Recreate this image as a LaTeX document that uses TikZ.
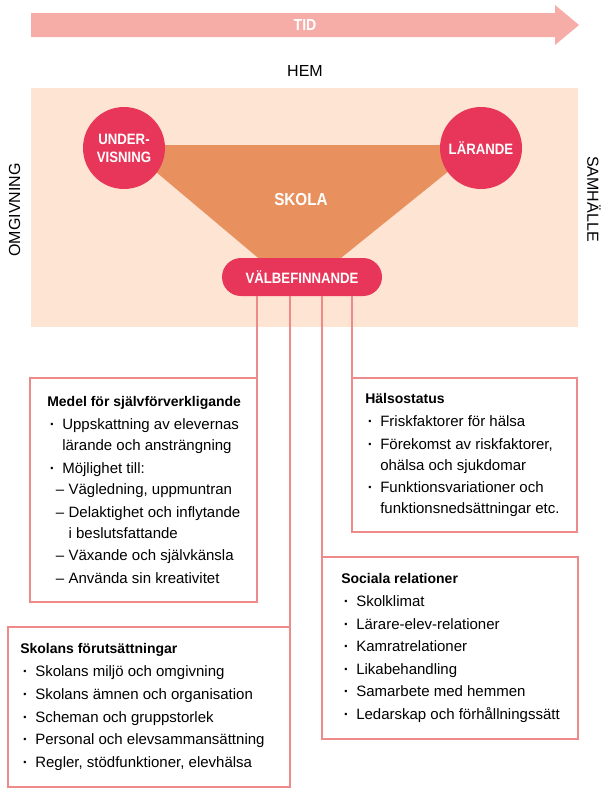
\documentclass[tikz,border=0pt]{standalone}
\usepackage{fontspec}
\setmainfont{Liberation Sans}
\newfontfamily\condfont[FakeStretch=0.88]{Liberation Sans}
\usetikzlibrary{positioning}

\definecolor{tidpink}{HTML}{F6ACA7}
\definecolor{hempeach}{HTML}{FDE4D3}
\definecolor{skolaorange}{HTML}{E8915E}
\definecolor{keyred}{HTML}{E8365A}
\definecolor{boxline}{HTML}{EF8A8B}

\newdimen\pxu \pxu=0.75pt
\newcommand{\boxhead}[1]{{\bfseries\fontsize{10.5pt}{15.75pt}\selectfont #1}}
\newcommand{\bpoint}{\makebox[11.25pt][l]{\hspace{2pt}\textbf{·}}}
\newcommand{\bcont}{\hspace*{11.25pt}}
\newcommand{\dpoint}{\hspace*{6.5pt}\makebox[9.5pt][l]{–}}
\newcommand{\dcont}{\hspace*{16pt}}

\tikzset{
    keynode/.style={fill=keyred, text=white, inner sep=0pt, align=center,
        font=\condfont\bfseries\fontsize{11.25pt}{13.5pt}\selectfont},
    sidelabel/.style={font=\fontsize{12pt}{12pt}\selectfont},
    infobox/.style={draw=boxline, line width=1.9pt, fill=white, anchor=north west, outer sep=0pt},
    boxtext/.style={anchor=west, align=left, inner sep=0pt,
        font=\fontsize{11.25pt}{15.75pt}\selectfont},
    link/.style={draw=boxline, line width=1.5pt}
}

\begin{document}
\begin{tikzpicture}[x=0.75pt, y=-0.75pt]
    \useasboundingbox (0,0) rectangle (603,789);

    % Time arrow
    \fill[tidpink] (31,13) -- (555,13) -- (555,5) -- (579,25) -- (555,45) -- (555,37) -- (31,37) -- cycle;
    \node[text=white, font=\condfont\bfseries\fontsize{12pt}{12pt}\selectfont] (tid) at (305,25) {TID};

    % Home and surroundings
    \node[sidelabel] (hem) at (305,71) {HEM};
    \fill[hempeach] (31,88) rectangle (578,327);
    \node[sidelabel, rotate=90] (omgivning) at (14.5,210) {OMGIVNING};
    \node[sidelabel, rotate=-90] (samhalle) at (594,199) {SAMHÄLLE};

    % School
    \fill[skolaorange] (124,145) -- (481,145) -- (336,262) -- (263,262) -- cycle;
    \node[text=white, font=\condfont\bfseries\fontsize{13pt}{13pt}\selectfont] (skola) at (301,200) {SKOLA};
    \node[keynode, circle, minimum size=82\pxu] (undervisning) at (124,148) {UNDER-\\VISNING};
    \node[keynode, circle, minimum size=82\pxu] (larande) at (481,148) {LÄRANDE};
    \node[keynode, rounded corners=19\pxu, minimum width=160\pxu, minimum height=38\pxu] (valbefinnande) at (302,277) {VÄLBEFINNANDE};

    % Medel for sjalvforverkligande
    \node[infobox, minimum width=227\pxu, minimum height=224\pxu] (medel) at (30,378) {};
    \node[boxtext] (medeltext) at ([xshift=17\pxu]medel.west) {%
        \boxhead{Medel för självförverkligande}\\[1.5pt]
        \bpoint Uppskattning av elevernas\\
        \bcont lärande och ansträngning\\[1.2pt]
        \bpoint Möjlighet till:\\
        \dpoint Vägledning, uppmuntran\\[1.2pt]
        \dpoint Delaktighet och inflytande\\
        \dcont i beslutsfattande\\[1.2pt]
        \dpoint Växande och självkänsla\\[1.2pt]
        \dpoint Använda sin kreativitet};

    % Halsostatus
    \node[infobox, minimum width=225\pxu, minimum height=154\pxu] (halsa) at (352,378) {};
    \node[boxtext] (halsatext) at ([xshift=13\pxu]halsa.west) {%
        \boxhead{Hälsostatus}\\[1.5pt]
        \bpoint Friskfaktorer för hälsa\\[1.2pt]
        \bpoint Förekomst av riskfaktorer,\\
        \bcont ohälsa och sjukdomar\\[1.2pt]
        \bpoint Funktionsvariationer och\\
        \bcont funktionsnedsättningar etc.};

    % Sociala relationer
    \node[infobox, minimum width=256\pxu, minimum height=182\pxu] (sociala) at (322,557) {};
    \node[boxtext] (socialatext) at ([xshift=19\pxu]sociala.west) {%
        \boxhead{Sociala relationer}\\[1.5pt]
        \bpoint Skolklimat\\[1.2pt]
        \bpoint Lärare-elev-relationer\\[1.2pt]
        \bpoint Kamratrelationer\\[1.2pt]
        \bpoint Likabehandling\\[1.2pt]
        \bpoint Samarbete med hemmen\\[1.2pt]
        \bpoint Ledarskap och förhållningssätt};

    % Skolans forutsattningar
    \node[infobox, minimum width=282\pxu, minimum height=160\pxu] (skolans) at (8,627) {};
    \node[boxtext] (skolanstext) at ([xshift=12\pxu]skolans.west) {%
        \boxhead{Skolans förutsättningar}\\[1.5pt]
        \bpoint Skolans miljö och omgivning\\[1.2pt]
        \bpoint Skolans ämnen och organisation\\[1.2pt]
        \bpoint Scheman och gruppstorlek\\[1.2pt]
        \bpoint Personal och elevsammansättning\\[1.2pt]
        \bpoint Regler, stödfunktioner, elevhälsa};

    % Links from valbefinnande down to the boxes
    \foreach \b/\a in {medel/north east, skolans/north east, sociala/north west, halsa/north west}
        \draw[link] (valbefinnande.south -| \b.\a) -- (\b.\a);
\end{tikzpicture}
\end{document}
